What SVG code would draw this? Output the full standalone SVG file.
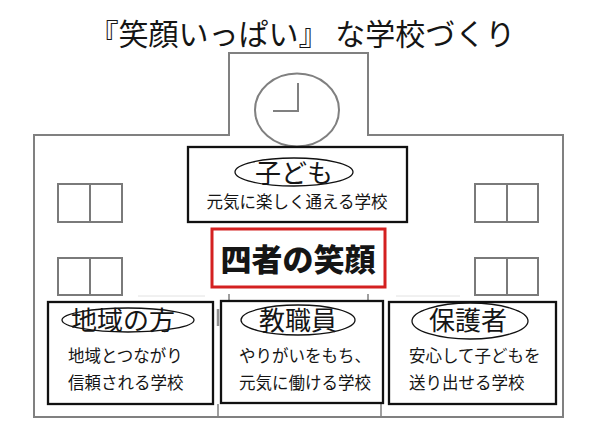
<svg xmlns="http://www.w3.org/2000/svg" width="600" height="425" viewBox="0 0 600 425">
<style>
.bld{fill:#fff;stroke:#808080;stroke-width:2}
.win{fill:#fff;stroke:#7a7a7a;stroke-width:2}
.box{fill:#fff;stroke:#111;stroke-width:2.3}
.ell{fill:#fff;stroke:#111;stroke-width:1.3}
.jp{font-family:"Noto Sans CJK JP","Noto Sans CJK SC",sans-serif;fill:#151515}
.mid{text-anchor:middle}
.head{font-size:26px}
.body{font-size:16.5px}
</style>
<rect width="600" height="425" fill="#fff"/>
<text class="jp mid" x="302" y="45" font-size="30" font-weight="400">『笑顔いっぱい』 な学校づくり</text>
<g id="building">
<rect class="bld" x="34" y="135" width="529" height="282"/>
<path d="M229 136V53H368V136" fill="#fff" stroke="#808080" stroke-width="2"/>
<ellipse cx="297" cy="110" rx="42" ry="36.5" fill="none" stroke="#808080" stroke-width="2"/>
<path d="M298 83V111H273" fill="none" stroke="#808080" stroke-width="2"/>
<rect class="win" x="58" y="184" width="64" height="38"/>
<line class="win" x1="90" y1="184" x2="90" y2="222"/>
<rect class="win" x="58" y="258" width="64" height="37"/>
<line class="win" x1="90" y1="258" x2="90" y2="295"/>
<rect class="win" x="475" y="184" width="63" height="38"/>
<line class="win" x1="507" y1="184" x2="507" y2="222"/>
<rect class="win" x="475" y="258" width="63" height="37"/>
<line class="win" x1="507" y1="258" x2="507" y2="295"/>
<path d="M138 296H205M396 296H460" stroke="#e2e2e2" stroke-width="1"/>
<path d="M229 294V301M368 294V301M218 404V417M381 404V417" stroke="#808080" stroke-width="1.5"/>
<path d="M218 309V326" stroke="#909090" stroke-width="2.5"/>
</g>
<g id="node-kodomo">
<rect class="box" x="188" y="147" width="219" height="75"/>
<ellipse class="ell" cx="294" cy="172" rx="59" ry="14"/>
<text class="jp mid head" x="294" y="183">子ども</text>
<text class="jp mid body" x="297" y="208" font-size="17">元気に楽しく通える学校</text>
</g>
<g id="node-center">
<rect x="212" y="229" width="173" height="58" fill="#fff" stroke="#d42020" stroke-width="3"/>
<text class="jp mid" x="298" y="271" font-size="31" font-weight="900">四者の笑顔</text>
</g>
<g id="node-chiiki">
<rect class="box" x="48" y="302" width="165" height="102"/>
<ellipse class="ell" cx="128" cy="320" rx="66" ry="12"/>
<text class="jp mid head" x="123" y="330">地域の方</text>
<text class="jp body" x="68" y="362">地域とつながり</text>
<text class="jp body" x="68" y="389">信頼される学校</text>
</g>
<g id="node-kyoshokuin">
<rect class="box" x="221" y="301" width="162" height="102"/>
<ellipse class="ell" cx="298" cy="320" rx="57" ry="15"/>
<text class="jp mid head" x="298" y="330">教職員</text>
<text class="jp body" x="239" y="362">やりがいをもち、</text>
<text class="jp body" x="239" y="389">元気に働ける学校</text>
</g>
<g id="node-hogosha">
<rect class="box" x="389" y="302" width="167" height="102"/>
<ellipse class="ell" cx="470" cy="321" rx="58" ry="18"/>
<text class="jp mid head" x="468" y="330">保護者</text>
<text class="jp body" x="409" y="362">安心して子どもを</text>
<text class="jp body" x="409" y="389">送り出せる学校</text>
</g>
<g id="connectors"></g>
</svg>
